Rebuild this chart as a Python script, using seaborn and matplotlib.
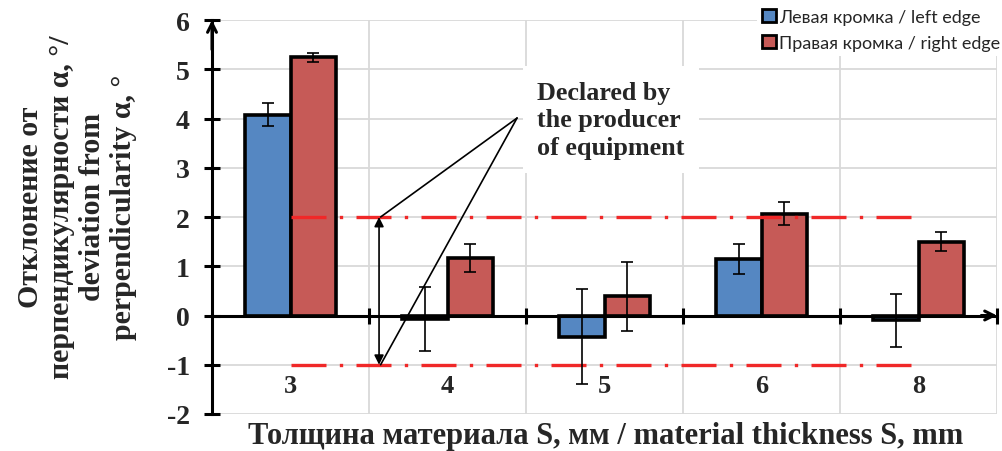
import matplotlib
matplotlib.use('Agg')
import matplotlib.pyplot as plt
from matplotlib.patches import Patch
import seaborn as sns
import pandas as pd

# ---- data ----
thickness = ['3', '4', '5', '6', '8']
left_vals = [4.08, -0.08, -0.43, 1.15, -0.10]
left_err = [0.23, 0.65, 0.97, 0.31, 0.54]
right_vals = [5.24, 1.17, 0.39, 2.07, 1.50]
right_err = [0.10, 0.28, 0.70, 0.23, 0.20]
series = ['Левая кромка / left edge', 'Правая кромка / right edge']
limits = [2, -1]
y_ticks = [-2, -1, 0, 1, 2, 3, 4, 5, 6]
annotation = 'Declared by\nthe producer\nof equipment'
ylabel = 'Отклонение от\nперпендикулярности α, °/\ndeviation from\nperpendicularity α, °'
xlabel = 'Толщина материала S, мм / material thickness S, mm'

colors = ['#5587C2', '#C65A57']

df = pd.DataFrame({
    'S': thickness * 2,
    'val': left_vals + right_vals,
    'err': left_err + right_err,
    'series': [series[0]] * len(thickness) + [series[1]] * len(thickness),
})

sns.set_style('white')
plt.rcParams['font.family'] = ['Liberation Serif', 'DejaVu Serif']
plt.rcParams['font.weight'] = 'bold'

fig = plt.figure(figsize=(10.03, 4.52), dpi=100)
ax = fig.add_axes([212 / 1003, 1 - 415 / 452, 785 / 1003, 394 / 452])

sns.barplot(data=df, x='S', y='val', hue='series', palette=colors, saturation=1,
            width=0.575, gap=0, errorbar=None, edgecolor='black',
            linewidth=2.6, ax=ax, legend=False, zorder=2)

# error bars from bar containers
for cont, vals, errs in zip(ax.containers, [left_vals, right_vals], [left_err, right_err]):
    xs = [p.get_x() + p.get_width() / 2 for p in cont.patches]
    ax.errorbar(xs, vals, yerr=errs, fmt='none', ecolor='black',
                elinewidth=1.2, capsize=4.5, capthick=1.2, zorder=5)

ax.set_xlim(-0.5, len(thickness) - 0.5)
ax.set_ylim(min(y_ticks), max(y_ticks))
ax.set_yticks(y_ticks)
ax.set_yticklabels([str(t) for t in y_ticks])
ax.set_xticks(range(len(thickness)))
ax.set_xticklabels(thickness)
ax.set_xticks([i + 0.5 for i in range(len(thickness))], minor=True)
ax.set_xlabel('')
ax.set_ylabel('')

# grid
ax.set_axisbelow(True)
ax.grid(axis='y', which='major', color='#D9D9D9', lw=1.3, zorder=0)
ax.grid(axis='x', which='minor', color='#D9D9D9', lw=1.3, zorder=0)
ax.grid(axis='x', which='major', visible=False)

# spines
for s in ['top', 'right']:
    ax.spines[s].set_visible(False)
ax.spines['left'].set_linewidth(2.2)
ax.spines['left'].set_color('black')
ax.spines['left'].set_zorder(6)
ax.spines['bottom'].set_position(('data', 0))
ax.spines['bottom'].set_linewidth(2.2)
ax.spines['bottom'].set_color('black')
ax.spines['bottom'].set_zorder(6)

ax.tick_params(axis='y', which='major', direction='inout', length=12, width=2.2,
               color='black', pad=10, left=True, labelsize=20)
ax.tick_params(axis='x', which='major', length=0, pad=42, labelsize=19)
ax.tick_params(axis='x', which='minor', direction='inout', length=11, width=2.2,
               color='black', bottom=True)
for lab in ax.get_xticklabels() + ax.get_yticklabels():
    lab.set_fontweight('bold')

# axis arrows
ax.annotate('', xy=(-0.5, max(y_ticks)), xytext=(-0.5, max(y_ticks) - 0.6),
            arrowprops=dict(arrowstyle='->', lw=2.2, color='black', mutation_scale=16,
                            shrinkA=0, shrinkB=0), annotation_clip=False, zorder=7)
ax.annotate('', xy=(len(thickness) - 0.5, 0), xytext=(len(thickness) - 0.6, 0),
            arrowprops=dict(arrowstyle='->', lw=2.2, color='black', mutation_scale=16,
                            shrinkA=0, shrinkB=0), annotation_clip=False, zorder=7)

# declared limits (dash-dot red)
ax.hlines(limits, 0, len(thickness) - 1, colors='#F02828', lw=2.4,
          linestyles=[(0, (10.5, 4.0, 1.0, 4.0))], zorder=3)

# double arrow between limits
arrow_x = 0.564
ax.annotate('', xy=(arrow_x, limits[0]), xytext=(arrow_x, limits[1]),
            arrowprops=dict(arrowstyle='<|-|>', lw=1.2, color='black', mutation_scale=14,
                            shrinkA=0, shrinkB=0), zorder=6)

# annotation text with connectors
src = (1.443, 4.01)
for lim in limits:
    ax.annotate('', xy=(arrow_x + 0.01, lim), xytext=src,
                arrowprops=dict(arrowstyle='-', lw=1.2, color='black',
                                shrinkA=0, shrinkB=0), zorder=6)
ax.text(1.57, 4.77, annotation, fontsize=18.8, fontweight='bold', ha='left', va='top',
        linespacing=1.25, zorder=7,
        bbox=dict(boxstyle='square,pad=0.55', facecolor='white', edgecolor='none'))

# axis labels
fig.text(77 / 1003, 1 - 207 / 452, ylabel, rotation=90, ha='center', va='center',
         multialignment='center', fontsize=21.5, fontweight='bold', linespacing=1.2)
fig.text(606 / 1003, 1 - 437 / 452, xlabel, ha='center', va='center',
         fontsize=22, fontweight='bold')

# legend
handles = [Patch(facecolor=c, edgecolor='black', lw=2.0) for c in colors]
fig.legend(handles, series, loc='upper right', bbox_to_anchor=(1.003, 0.99),
           frameon=True, facecolor='white', edgecolor='none', framealpha=1,
           fancybox=False, prop={'family': 'Lato', 'size': 13, 'weight': 'normal'},
           handlelength=0.75, handleheight=0.75, handletextpad=0.2, labelspacing=0.55,
           borderaxespad=0.0, borderpad=0.3)

fig.savefig('out.png', dpi=100)
